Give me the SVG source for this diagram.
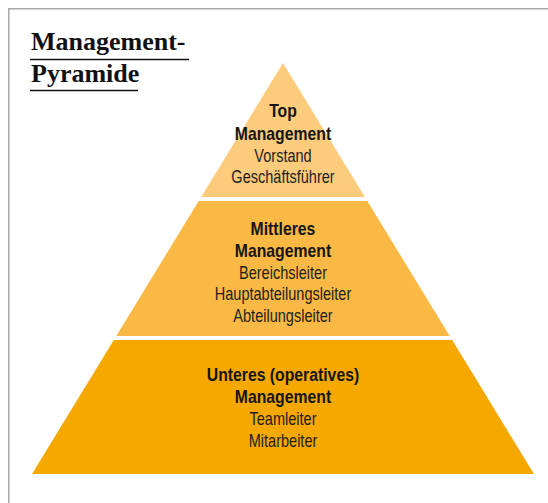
<svg xmlns="http://www.w3.org/2000/svg" width="548" height="503" viewBox="0 0 548 503">
  <style>
    .frame { fill: none; stroke: #a8a8a8; stroke-width: 1.5; }
    .title { font-family: "Liberation Serif", "DejaVu Serif", serif; font-weight: bold; font-size: 26px; fill: #111; }
    .rule { stroke: #111; stroke-width: 1.5; }
    .head { font-family: "Liberation Sans", Arial, sans-serif; font-weight: bold; font-size: 19px; fill: #161616; text-anchor: middle; }
    .item { font-family: "Liberation Sans", Arial, sans-serif; font-size: 17.5px; fill: #1e1e1e; text-anchor: middle; }
    .l1 { fill: #fccb7c; }
    .l2 { fill: #f9b944; }
    .l3 { fill: #f4a800; }
  </style>

  <rect width="548" height="503" fill="#ffffff"/>
  <!-- frame: only the top and left edges fall inside the canvas -->
  <path class="frame" d="M8.75,503 V8.75 H548"/>

  <!-- title -->
  <g id="title">
    <text class="title" x="31" y="50">Management-</text>
    <line class="rule" x1="30" y1="59.5" x2="189" y2="59.5"/>
    <text class="title" x="31" y="82">Pyramide</text>
    <line class="rule" x1="30" y1="90.5" x2="138" y2="90.5"/>
  </g>

  <!-- level 1 -->
  <g id="top-management">
    <polygon class="l1" points="283,63 364.9,197 201.1,197"/>
    <!-- labels drawn condensed around the centre axis -->
    <g transform="translate(283 0) scale(0.83 1)">
      <text class="head" x="0" y="117">Top</text>
      <text class="head" x="0" y="140">Management</text>
      <text class="item" x="0" y="162">Vorstand</text>
      <text class="item" x="0" y="183">Geschäftsführer</text>
    </g>
  </g>

  <!-- level 2 -->
  <g id="middle-management">
    <polygon class="l2" points="198.7,201 367.3,201 449.7,336 116.3,336"/>
    <g transform="translate(283 0) scale(0.83 1)">
      <text class="head" x="0" y="235">Mittleres</text>
      <text class="head" x="0" y="257">Management</text>
      <text class="item" x="0" y="279">Bereichsleiter</text>
      <text class="item" x="0" y="300">Hauptabteilungsleiter</text>
      <text class="item" x="0" y="322">Abteilungsleiter</text>
    </g>
  </g>

  <!-- level 3 -->
  <g id="lower-management">
    <polygon class="l3" points="113.8,340 452.2,340 534,474 32,474"/>
    <g transform="translate(283 0) scale(0.83 1)">
      <text class="head" x="0" y="381">Unteres (operatives)</text>
      <text class="head" x="0" y="403">Management</text>
      <text class="item" x="0" y="425">Teamleiter</text>
      <text class="item" x="0" y="447">Mitarbeiter</text>
    </g>
  </g>

  <g id="connectors"/>
</svg>
